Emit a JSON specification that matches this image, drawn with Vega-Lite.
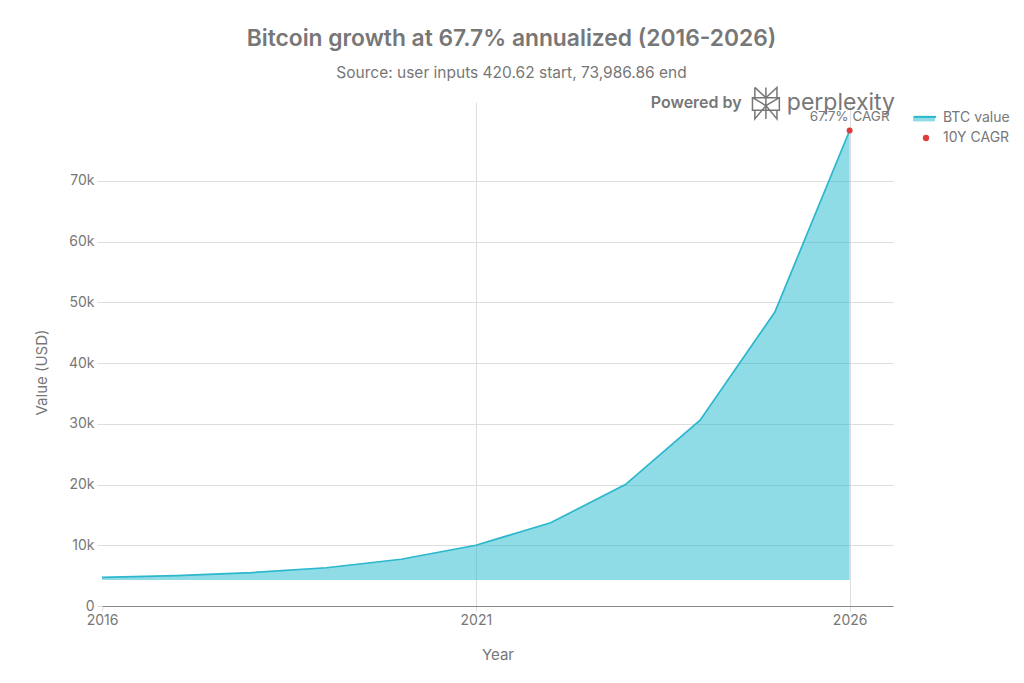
{"$schema":"https://vega.github.io/schema/vega-lite/v6.json","width":791,"height":504,"padding":{"left":102,"top":102,"right":131,"bottom":77},"autosize":{"type":"none"},"background":"white",
"title":{"text":"Bitcoin growth at 67.7% annualized (2016-2026)","subtitle":"Source: user inputs 420.62 start, 73,986.86 end","anchor":"middle","frame":"group","offset":3,"dx":14,"fontSize":22.8,"font":"Inter","fontWeight":600,"color":"#777777","subtitleFont":"Inter","subtitleFontSize":15.5,"subtitleColor":"#777777","subtitlePadding":15},
"config":{"font":"Inter","view":{"stroke":null}},
"datasets":{"btc":[{"year":2016,"value":4700,"series":"BTC value"},{"year":2017,"value":5000,"series":"BTC value"},{"year":2018,"value":5500,"series":"BTC value"},{"year":2019,"value":6300,"series":"BTC value"},{"year":2020,"value":7700,"series":"BTC value"},{"year":2021,"value":10000,"series":"BTC value"},{"year":2022,"value":13700,"series":"BTC value"},{"year":2023,"value":20000,"series":"BTC value"},{"year":2024,"value":30600,"series":"BTC value"},{"year":2025,"value":48400,"series":"BTC value"},{"year":2026,"value":78300,"series":"BTC value"}],
"cagr":[{"year":2026,"value":78300,"series":"10Y CAGR","label":"67.7% CAGR"}],
"brand":[{"powered":"Powered by","name":"perplexity"}]},
"layer":[
{"data":{"name":"btc"},"mark":{"type":"area","opacity":0.5},
"encoding":{"x":{"field":"year","type":"quantitative","scale":{"domain":[2016,2026.58],"nice":false,"zero":false},"axis":{"values":[2016,2021,2026],"format":"d","title":"Year","titleFontSize":15,"titleFontWeight":"normal","titleColor":"#777777","titlePadding":20,"labelFontSize":14,"labelColor":"#777777","labelFlush":false,"domainColor":"#888888","domainWidth":1.2,"grid":true,"gridColor":"#DDDDDD","gridOpacity":{"condition":{"test":"datum.value==2016","value":0},"value":1},"tickSize":5,"tickColor":"#DDDDDD","labelPadding":2}},
"y":{"field":"value","type":"quantitative","scale":{"domain":[0,83000],"nice":false},"axis":{"values":[0,10000,20000,30000,40000,50000,60000,70000],"labelExpr":"datum.value==0?'0':(datum.value/1000)+'k'","title":"Value (USD)","titleFontSize":15,"titleFontWeight":"normal","titleColor":"#777777","titlePadding":19,"titleY":270,"labelFontSize":14,"labelColor":"#777777","domain":false,"tickSize":5,"tickColor":"#DDDDDD","gridColor":"#DDDDDD","labelPadding":3}},
"y2":{"datum":4300},
"fill":{"field":"series","type":"nominal","scale":{"range":["#1FB8CD"]},"legend":{"orient":"none","legendX":811,"legendY":4,"title":null,"labelExpr":"''","symbolType":"M-1,-0.1H1V0.4H-1Z","symbolSize":484,"symbolOpacity":0.5,"symbolStrokeWidth":0,"labelFontSize":14}}}},
{"data":{"name":"btc"},"mark":{"type":"line","strokeWidth":1.7},
"encoding":{"x":{"field":"year","type":"quantitative"},"y":{"field":"value","type":"quantitative"},
"stroke":{"field":"series","type":"nominal","scale":{"range":["#2BB7CC"]},"legend":{"orient":"none","legendX":811,"legendY":4,"title":null,"symbolType":"M-1,-0.1H1","symbolSize":484,"symbolStrokeWidth":2,"labelFontSize":14,"labelOffset":6,"labelColor":"#777777"}}}},
{"data":{"name":"cagr"},"mark":{"type":"point","filled":true,"size":36,"color":"#E03C3C","opacity":1},
"encoding":{"x":{"field":"year","type":"quantitative"},"y":{"field":"value","type":"quantitative"},
"shape":{"field":"series","type":"nominal","scale":{"range":["circle"]},"legend":{"orient":"none","legendX":817,"legendY":29,"title":null,"symbolFillColor":"#E03C3C","symbolStrokeWidth":0,"symbolSize":40,"labelFontSize":14,"labelOffset":10,"labelColor":"#777777","symbolOpacity":1}}}},
{"data":{"name":"cagr"},"mark":{"type":"text","align":"center","baseline":"middle","fontSize":13.5,"color":"#777777","font":"Inter"},
"encoding":{"x":{"field":"year","type":"quantitative"},"y":{"datum":80500},"text":{"field":"label"}}},
{"data":{"name":"brand"},"mark":{"type":"text","align":"left","baseline":"middle","fontSize":16,"fontWeight":600,"color":"#777777","font":"Inter"},
"encoding":{"x":{"datum":2023.34},"y":{"datum":82800},"text":{"field":"powered"}}},
{"data":{"name":"brand"},"mark":{"type":"text","align":"left","baseline":"middle","fontSize":23,"fontWeight":400,"color":"#777777","font":"Inter"},
"encoding":{"x":{"datum":2025.16},"y":{"datum":82800},"text":{"field":"name"}}},
{"data":{"name":"brand"},"mark":{"type":"point","filled":false,"size":1000,"strokeWidth":1.5,"color":"#777777","opacity":1,"shape":"M0,-1V1M-0.7,-1L0,-0.35L0.7,-1V-0.35M-0.7,-1V-0.35M-0.85,-0.35H0.85V0.45H-0.85ZM-0.85,-0.35L0,0.15L0.85,-0.35M-0.7,0.45V1L0,0.15L0.7,1V0.45"},
"encoding":{"x":{"datum":2024.88},"y":{"datum":82800}}}
],
"resolve":{"scale":{"fill":"independent","stroke":"independent","shape":"independent"},"legend":{"fill":"independent","stroke":"independent","shape":"independent"}}}
